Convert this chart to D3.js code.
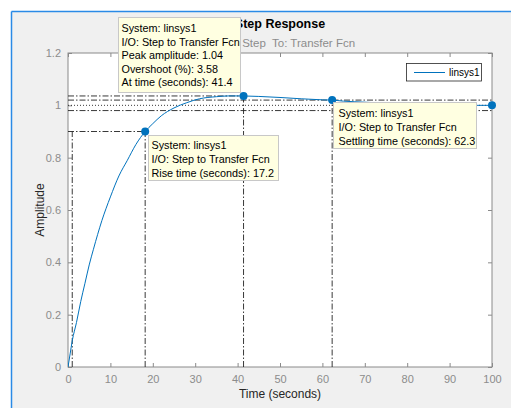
<!DOCTYPE html>
<html>
<head>
<meta charset="utf-8">
<script src="https://cdn.jsdelivr.net/npm/d3@7"></script>
<style>
  html, body { margin: 0; padding: 0; background: #ffffff; }
  svg { display: block; font-family: "Liberation Sans", Arial, Helvetica, sans-serif; }
</style>
</head>
<body>
<svg id="chart" width="511" height="408"></svg>
<script>
// ---- data ----
const timeVals = [0, 0.5, 1.0, 2, 3, 4, 5, 6, 8, 10, 12, 14, 16, 18.2, 20, 22, 25, 28, 31, 35, 38, 41.4, 45, 50, 55, 60, 62.3, 65, 70, 75, 80, 85, 90, 95, 100];
const ampVals  = [0, 0.05, 0.10, 0.17, 0.25, 0.32, 0.39, 0.45, 0.56, 0.65, 0.73, 0.79, 0.85, 0.90, 0.93, 0.96, 0.99, 1.01, 1.025, 1.033, 1.036, 1.0358, 1.034, 1.030, 1.025, 1.021, 1.02, 1.016, 1.012, 1.008, 1.005, 1.003, 1.001, 1.000, 1.000];
const xTicks = [0, 10, 20, 30, 40, 50, 60, 70, 80, 90, 100];
const yTicks = [0, 0.2, 0.4, 0.6, 0.8, 1, 1.2];
const yTickLabels = ["0", "0.2", "0.4", "0.6", "0.8", "1", "1.2"];
const riseStart = 1.0, riseEnd = 18.2, riseLevel = 0.9;
const peakTime = 41.4, peakAmp = 1.0358;
const settleTime = 62.3, settleAmp = 1.02, settleBand = [0.98, 1.02];
const finalTime = 100, finalValue = 1.0;
const seriesName = "linsys1";
const titleText = "Step Response";
const subtitleText = "From: Step  To: Transfer Fcn";
const tipPeak = ["System: linsys1", "I/O: Step to Transfer Fcn", "Peak amplitude: 1.04", "Overshoot (%): 3.58", "At time (seconds): 41.4"];
const tipRise = ["System: linsys1", "I/O: Step to Transfer Fcn", "Rise time (seconds): 17.2"];
const tipSettle = ["System: linsys1", "I/O: Step to Transfer Fcn", "Settling time (seconds): 62.3"];

// ---- layout ----
const svg = d3.select("#chart");
const L = 68, R = 492, T = 53, B = 367;
const x = d3.scaleLinear().domain([0, 100]).range([L, R]);
const y = d3.scaleLinear().domain([0, 1.2]).range([B, T]);
const blue = "#0072BD";
const axisGrey = "#8a8a8a";
const labelGrey = "#8c8c8c";

// window background
svg.append("rect").attr("x", 0).attr("y", 0).attr("width", 511).attr("height", 408).attr("fill", "#ffffff");
svg.append("rect").attr("x", 11.5).attr("y", 11.5).attr("width", 510).attr("height", 400).attr("fill", "#f0f0f0");
svg.append("line").attr("x1", 11.5).attr("x2", 511).attr("y1", 11.5).attr("y2", 11.5).attr("stroke", "#2a8ae6").attr("stroke-width", 1.5);
svg.append("line").attr("x1", 11.5).attr("x2", 11.5).attr("y1", 11.5).attr("y2", 408).attr("stroke", "#2a8ae6").attr("stroke-width", 1.5);

// plot area
svg.append("rect").attr("x", L).attr("y", T).attr("width", R - L).attr("height", B - T).attr("fill", "#ffffff");

svg.append("defs").append("clipPath").attr("id", "clip")
  .append("rect").attr("x", L).attr("y", T).attr("width", R - L).attr("height", B - T);

// axes (ticks inward)
const axB = d3.axisBottom(x).tickValues(xTicks).tickSize(-4).tickPadding(8).tickFormat(d3.format("d"));
const axT = d3.axisTop(x).tickValues(xTicks).tickSize(-4).tickFormat("");
const axL = d3.axisLeft(y).tickValues(yTicks).tickSize(-4).tickPadding(7).tickFormat((d, i) => yTickLabels[i]);
const axR = d3.axisRight(y).tickValues(yTicks).tickSize(-4).tickFormat("");

function styleAxis(g) {
  g.select(".domain").attr("stroke", axisGrey);
  g.selectAll(".tick line").attr("stroke", axisGrey);
  g.selectAll(".tick text").attr("fill", labelGrey).style("font-size", "11px").style("font-family", "'Liberation Sans', Arial, sans-serif");
}
svg.append("g").attr("transform", `translate(0,${B})`).call(axB).call(styleAxis);
svg.append("g").attr("transform", `translate(0,${T})`).call(axT).call(styleAxis);
svg.append("g").attr("transform", `translate(${L},0)`).call(axL).call(styleAxis);
svg.append("g").attr("transform", `translate(${R},0)`).call(axR).call(styleAxis);
svg.selectAll(".domain").attr("d", null);
svg.append("rect").attr("x", L).attr("y", T).attr("width", R - L).attr("height", B - T)
  .attr("fill", "none").attr("stroke", axisGrey).attr("stroke-width", 1);

// characteristic lines
const plot = svg.append("g").attr("clip-path", "url(#clip)");
const dashDot = "6,2,1.5,2";
function ref(x1, y1, x2, y2, dash) {
  plot.append("line").attr("x1", x(x1)).attr("y1", y(y1)).attr("x2", x(x2)).attr("y2", y(y2))
    .attr("stroke", "#222").attr("stroke-width", 0.9).attr("stroke-dasharray", dash);
}
// rise time
ref(0, riseLevel, riseEnd, riseLevel, dashDot);
ref(riseStart, 0, riseStart, riseLevel, dashDot);
ref(riseEnd, 0, riseEnd, riseLevel, dashDot);
// peak
ref(0, peakAmp, peakTime, peakAmp, dashDot);
ref(peakTime, 0, peakTime, peakAmp, dashDot);
// settling band
ref(0, settleBand[0], 100, settleBand[0], dashDot);
ref(0, settleBand[1], 100, settleBand[1], dashDot);
ref(settleTime, 0, settleTime, settleAmp, dashDot);
// steady state
ref(0, finalValue, 100, finalValue, "1,2");

// response curve
const data = timeVals.map((t, i) => [t, ampVals[i]]);
const line = d3.line().x(d => x(d[0])).y(d => y(d[1])).curve(d3.curveMonotoneX);
plot.append("path").datum(data).attr("d", line).attr("fill", "none").attr("stroke", blue).attr("stroke-width", 1);

// markers
const markers = [[riseEnd, riseLevel], [peakTime, peakAmp], [settleTime, settleAmp], [finalTime, finalValue]];
svg.selectAll("circle.mk").data(markers).enter().append("circle")
  .attr("class", "mk").attr("cx", d => x(d[0])).attr("cy", d => y(d[1])).attr("r", 4).attr("fill", blue);

// title
svg.append("text").attr("x", (L + R) / 2).attr("y", 28).attr("text-anchor", "middle")
  .style("font-size", "12.5px").style("font-weight", "bold").attr("fill", "#000").text(titleText);
svg.append("text").attr("x", (L + R) / 2 + 2).attr("y", 47).attr("text-anchor", "middle")
  .style("font-size", "11.5px").style("white-space", "pre").attr("fill", "#8c8c8c").text(subtitleText);

// axis labels
svg.append("text").attr("x", (L + R) / 2).attr("y", 398).attr("text-anchor", "middle")
  .style("font-size", "12px").attr("fill", "#262626").text("Time (seconds)");
svg.append("text").attr("transform", `translate(44,${(T + B) / 2}) rotate(-90)`).attr("text-anchor", "middle")
  .style("font-size", "12px").attr("fill", "#262626").text("Amplitude");

// legend
const lg = svg.append("g");
lg.append("rect").attr("x", 406.5).attr("y", 63.5).attr("width", 75).attr("height", 17.5)
  .attr("fill", "#fff").attr("stroke", "#262626").attr("stroke-width", 0.8);
lg.append("line").attr("x1", 414).attr("x2", 445).attr("y1", 72.5).attr("y2", 72.5).attr("stroke", blue).attr("stroke-width", 1);
lg.append("text").attr("x", 449).attr("y", 76).style("font-size", "10px").attr("fill", "#000").text(seriesName);

// datatips
function tip(bx, by, bw, bh, lines, tx, ty0, dy) {
  const g = svg.append("g");
  g.append("rect").attr("x", bx + 0.5).attr("y", by + 0.5).attr("width", bw).attr("height", bh)
    .attr("fill", "#ffffe1").attr("stroke", "#c8c8c8").attr("stroke-width", 1);
  g.selectAll("text").data(lines).enter().append("text")
    .attr("x", tx).attr("y", (d, i) => ty0 + i * dy)
    .style("font-size", "10.8px").attr("fill", "#000").text(d => d);
}
tip(118, 17, 122, 75, tipPeak, 121.5, 32, 13.6);
tip(148, 135, 130, 45, tipRise, 151.5, 149, 14);
tip(333, 102, 143, 46, tipSettle, 338.5, 117, 14.2);
</script>
</body>
</html>
